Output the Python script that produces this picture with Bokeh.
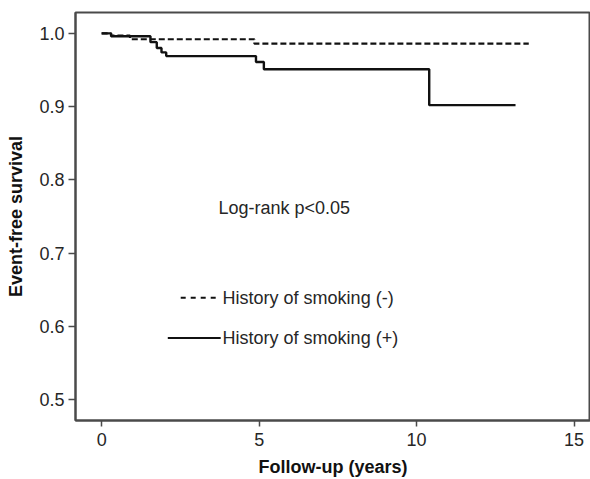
from bokeh.plotting import figure
from bokeh.models import Range1d, Label, FixedTicker
from bokeh.embed import file_html
from bokeh.resources import INLINE

# Kaplan-Meier step data
neg_time = [0.0, 0.3, 0.9, 4.85, 13.56]
neg_surv = [1.0, 0.997, 0.992, 0.986, 0.986]

pos_time = [0.0, 0.3, 1.55, 1.75, 1.9, 2.05, 4.9, 5.15, 10.4, 13.14]
pos_surv = [1.0, 0.996, 0.988, 0.980, 0.974, 0.969, 0.961, 0.951, 0.902, 0.902]

x_ticks = [0, 5, 10, 15]
y_ticks = [0.5, 0.6, 0.7, 0.8, 0.9, 1.0]
y_tick_labels = {0.5: "0.5", 0.6: "0.6", 0.7: "0.7", 0.8: "0.8", 0.9: "0.9", 1.0: "1.0"}

legend_labels = ["History of smoking (-)", "History of smoking (+)"]
annotation = "Log-rank p<0.05"

FONT = "Liberation Sans"
TXT = "#262626"
AX = "#4a4a4a"

X0, X1 = -0.83, 15.52
Y0, Y1 = 0.4715, 1.0285
p = figure(width=590, height=479, output_backend="svg", toolbar_location=None,
           x_range=Range1d(X0, X1), y_range=Range1d(Y0, Y1), title=None,
           min_border_left=75, min_border_right=0, min_border_top=12, min_border_bottom=58)
p.outline_line_color = AX
p.outline_line_width = 2
p.outline_line_alpha = 1.0
p.grid.visible = False
p.background_fill_color = "white"
p.border_fill_color = "white"

def step_xy(t, s):
    xs, ys = [t[0]], [s[0]]
    for i in range(1, len(t)):
        xs += [t[i], t[i]]
        ys += [s[i - 1], s[i]]
    return xs, ys

nx, ny = step_xy(neg_time, neg_surv)
sx, sy = step_xy(pos_time, pos_surv)
p.line(nx, ny, line_color="#111111", line_width=2.2, line_dash="6 3")
p.line(sx, sy, line_color="#111111", line_width=2.4)

# legend-like annotation
p.segment(x0=[2.51], y0=[0.639], x1=[3.71], y1=[0.639], line_color="#111111",
          line_width=2, line_dash="5 5")
p.segment(x0=[2.10], y0=[0.584], x1=[3.78], y1=[0.584], line_color="#111111", line_width=2)
for txt, yy in zip(legend_labels, [0.639, 0.584]):
    p.add_layout(Label(x=3.84, y=yy, text=txt, text_font=FONT, text_font_size="18px",
                       text_color=TXT, text_baseline="middle", text_align="left"))
p.add_layout(Label(x=3.71, y=0.761, text=annotation, text_font=FONT, text_font_size="18px",
                   text_color=TXT, text_baseline="middle", text_align="left"))

# axes
xa = p.xaxis[0]
ya = p.yaxis[0]
xa.ticker = FixedTicker(ticks=x_ticks)
ya.ticker = FixedTicker(ticks=y_ticks)
ya.major_label_overrides = y_tick_labels
for ax in (xa, ya):
    ax.axis_line_color = AX
    ax.axis_line_width = 2
    ax.major_tick_line_color = AX
    ax.major_tick_line_width = 1.5
    ax.major_tick_in = 0
    ax.minor_tick_line_color = None
    ax.major_label_text_font = FONT
    ax.major_label_text_font_size = "18px"
    ax.major_label_text_color = TXT
    ax.axis_label_text_font = FONT
    ax.axis_label_text_font_size = "18px"
    ax.axis_label_text_font_style = "bold"
    ax.axis_label_text_color = "#111111"
xa.major_tick_out = 6
ya.major_tick_out = 7
xa.major_label_standoff = 6
ya.major_label_standoff = 4
xa.axis_label = "Follow-up (years)"
ya.axis_label = "Event-free survival"
xa.axis_label_standoff = 8
ya.axis_label_standoff = 10

open("out.html", "w").write(file_html(p, INLINE))
